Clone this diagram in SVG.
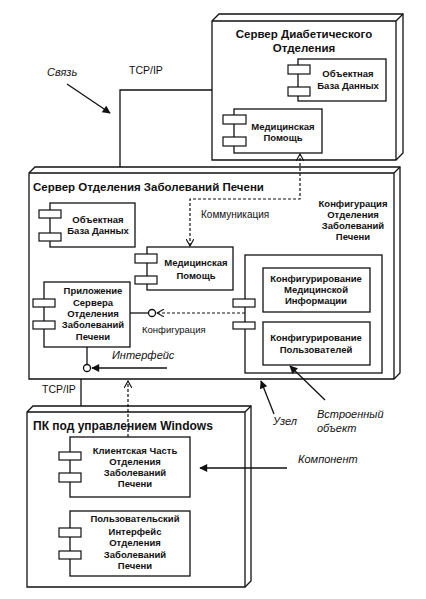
<svg xmlns="http://www.w3.org/2000/svg" width="426" height="599" viewBox="0 0 426 599">
<defs>
<style>
.ln{fill:none;stroke:#111;stroke-width:1.3}
.bx{fill:#fff;stroke:#111;stroke-width:1.3}
.tab{fill:#fff;stroke:#111;stroke-width:1.2}
.dash{fill:none;stroke:#111;stroke-width:1.2;stroke-dasharray:3 2}
.t{font-family:"Liberation Sans",Arial,sans-serif;font-size:9.5px;font-weight:bold;fill:#111;text-anchor:middle}
.title{font-family:"Liberation Sans",Arial,sans-serif;font-size:11.5px;font-weight:bold;fill:#111}
.lbl{font-family:"Liberation Sans",Arial,sans-serif;font-size:10px;fill:#111}
.it{font-family:"Liberation Sans",Arial,sans-serif;font-size:11px;font-style:italic;fill:#111}
</style>
<marker id="open" viewBox="0 0 10 10" refX="9" refY="5" markerWidth="8" markerHeight="8" orient="auto-start-reverse" markerUnits="userSpaceOnUse">
<path d="M0,0 L9,5 L0,10" fill="none" stroke="#111" stroke-width="1.4"/>
</marker>
<marker id="fill" viewBox="0 0 10 10" refX="9" refY="5" markerWidth="10" markerHeight="8" orient="auto" markerUnits="userSpaceOnUse">
<path d="M0,0 L10,5 L0,10 Z" fill="#111"/>
</marker>
</defs>
<rect x="0" y="0" width="426" height="599" fill="#fff"/>

<g id="node-diabetes">
<path class="bx" d="M212,21 L219,14 L403,14 L403,153 L396,160 L212,160 Z"/>
<path class="ln" d="M212,21 L396,21 L396,160 M396,21 L403,14"/>
<text class="title" x="304" y="38" text-anchor="middle">Сервер Диабетического</text>
<text class="title" x="304" y="52" text-anchor="middle">Отделения</text>
<g id="comp-db-top">
<rect class="bx" x="298" y="59" width="88" height="42"/>
<rect class="tab" x="288" y="65" width="22" height="9"/>
<rect class="tab" x="288" y="87" width="22" height="9"/>
<text class="t" x="348" y="77">Объектная</text>
<text class="t" x="348" y="89">База Данных</text>
</g>
<g id="comp-med-top">
<rect class="bx" x="234" y="109" width="88" height="44"/>
<rect class="tab" x="223" y="115" width="23" height="9"/>
<rect class="tab" x="223" y="137" width="23" height="9"/>
<text class="t" x="283" y="130">Медицинская</text>
<text class="t" x="283" y="141">Помощь</text>
</g>
</g>

<g id="node-liver">
<path class="bx" d="M29,173 L35,167 L400,167 L400,373 L394,379 L29,379 Z"/>
<path class="ln" d="M29,173 L394,173 L394,379 M394,173 L400,167"/>
<text class="title" x="33" y="191">Сервер Отделения Заболеваний Печени</text>
<text class="t" x="353" y="207">Конфигурация</text>
<text class="t" x="353" y="218">Отделения</text>
<text class="t" x="353" y="229">Заболеваний</text>
<text class="t" x="353" y="240">Печени</text>
<g id="comp-db-mid">
<rect class="bx" x="50" y="203" width="85" height="44"/>
<rect class="tab" x="39" y="210" width="22" height="8"/>
<rect class="tab" x="39" y="233" width="22" height="8"/>
<text class="t" x="98" y="223">Объектная</text>
<text class="t" x="98" y="234">База Данных</text>
</g>
<g id="comp-med-mid">
<rect class="bx" x="147" y="247" width="86" height="43"/>
<rect class="tab" x="135" y="254" width="22" height="9"/>
<rect class="tab" x="135" y="276" width="22" height="8"/>
<text class="t" x="196" y="266">Медицинская</text>
<text class="t" x="196" y="279">Помощь</text>
</g>
<g id="comp-app">
<rect class="bx" x="44" y="282" width="86" height="65"/>
<rect class="tab" x="33" y="299" width="22" height="8"/>
<rect class="tab" x="33" y="321" width="22" height="8"/>
<text class="t" x="93" y="294">Приложение</text>
<text class="t" x="93" y="306">Сервера</text>
<text class="t" x="93" y="317">Отделения</text>
<text class="t" x="93" y="328">Заболеваний</text>
<text class="t" x="93" y="340">Печени</text>
</g>
<g id="comp-config">
<rect class="bx" x="245" y="255" width="137" height="118"/>
<rect class="tab" x="233" y="299" width="22" height="8"/>
<rect class="tab" x="233" y="322" width="22" height="7"/>
<g id="obj-med-info">
<rect class="bx" x="263" y="268" width="107" height="44"/>
<text class="t" x="316" y="282">Конфигурирование</text>
<text class="t" x="316" y="293">Медицинской</text>
<text class="t" x="316" y="304">Информации</text>
</g>
<g id="obj-users">
<rect class="bx" x="263" y="322" width="107" height="43"/>
<text class="t" x="316" y="341">Конфигурирование</text>
<text class="t" x="316" y="353">Пользователей</text>
</g>
</g>
</g>

<g id="node-pc">
<path class="bx" d="M27,412 L33,406 L251,406 L251,581 L245,587 L27,587 Z"/>
<path class="ln" d="M27,412 L245,412 L245,587 M245,412 L251,406"/>
<text class="title" x="33" y="430" style="font-size:12px">ПК под управлением Windows</text>
<g id="comp-client">
<rect class="bx" x="70" y="437" width="120" height="60"/>
<rect class="tab" x="59" y="452" width="22" height="8"/>
<rect class="tab" x="59" y="473" width="22" height="9"/>
<text class="t" x="135" y="454">Клиентская Часть</text>
<text class="t" x="135" y="465">Отделения</text>
<text class="t" x="135" y="476">Заболеваний</text>
<text class="t" x="135" y="487">Печени</text>
</g>
<g id="comp-ui">
<rect class="bx" x="70" y="511" width="120" height="65"/>
<rect class="tab" x="59" y="528" width="22" height="9"/>
<rect class="tab" x="59" y="551" width="22" height="8"/>
<text class="t" x="135" y="522">Пользовательский</text>
<text class="t" x="135" y="535">Интерфейс</text>
<text class="t" x="135" y="546">Отделения</text>
<text class="t" x="135" y="558">Заболеваний</text>
<text class="t" x="135" y="569">Печени</text>
</g>
</g>

<g id="connectors">
<path class="ln" d="M212,90 L120,90 L120,167"/>
<path class="ln" d="M81,379 L81,406"/>
<path class="dash" d="M190,246 L190,199 L300,199 L300,154" marker-start="url(#open)" marker-end="url(#open)"/>
<path class="ln" d="M130,313 L148.5,313"/>
<circle cx="152" cy="313" r="3.5" fill="#fff" stroke="#111" stroke-width="1.3"/>
<path class="dash" d="M245,313 L157,313" marker-end="url(#open)"/>
<path class="ln" d="M87,347 L87,364.5"/>
<circle cx="87" cy="368" r="3.5" fill="#fff" stroke="#111" stroke-width="1.3"/>
<path class="dash" d="M128,437 L128,381" marker-end="url(#open)"/>
</g>

<g id="annotations">
<text class="it" x="47" y="76">Связь</text>
<path class="ln" d="M67,84 L110,113" marker-end="url(#fill)"/>
<text class="lbl" x="129" y="74" style="font-size:10.5px">TCP/IP</text>
<text class="lbl" x="42" y="393" style="font-size:10.5px">TCP/IP</text>
<text class="lbl" x="201" y="218">Коммуникация</text>
<text class="lbl" x="142" y="333" style="font-size:9.5px">Конфигурация</text>
<text class="it" x="112" y="359">Интерфейс</text>
<path class="ln" d="M167,368 L92,368" marker-end="url(#fill)"/>
<text class="it" x="273" y="425">Узел</text>
<path class="ln" d="M274,414 L261,381" marker-end="url(#fill)"/>
<text class="it" x="317" y="418">Встроенный</text>
<text class="it" x="317" y="432">объект</text>
<path class="ln" d="M325,400 L290,366" marker-end="url(#fill)"/>
<text class="it" x="298" y="463">Компонент</text>
<path class="ln" d="M287,468 L200,468" marker-end="url(#fill)"/>
</g>
</svg>
